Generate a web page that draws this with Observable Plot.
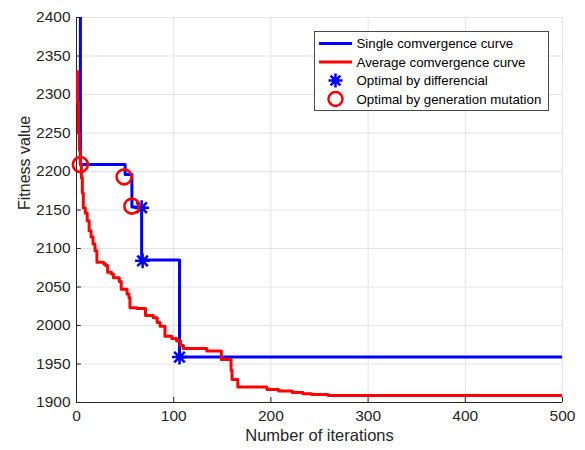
<!DOCTYPE html>
<html>
<head>
<meta charset="utf-8">
<script src="https://cdn.jsdelivr.net/npm/d3@7"></script>
<script src="https://cdn.jsdelivr.net/npm/@observablehq/plot@0.6"></script>
<style>
  html, body { margin: 0; padding: 0; background: #fff; }
  #wrap { position: relative; width: 585px; height: 450px; font-family: "Liberation Sans", Arial, Helvetica, sans-serif; }
  #legend { position: absolute; left: 314px; top: 31px; }
</style>
</head>
<body>
<div id="wrap"></div>
<script>
// Axis ticks
const xTicks = [0, 100, 200, 300, 400, 500];
const yTicks = [1900, 1950, 2000, 2050, 2100, 2150, 2200, 2250, 2300, 2350, 2400];

// Single run: best fitness after each change (iteration, value)
const singleIter  = [1,    4,    50,   57,   67,   106,  500];
const singleValue = [2480, 2209, 2196, 2154, 2085, 1959, 1959];

// Average over runs: iteration where the average changes, and the new value
const avgIter  = [0, 1, 2, 3, 4, 5, 6, 7, 9, 11, 13, 15, 17, 19, 21, 28, 30, 32, 36, 38, 44, 46, 52, 54, 55, 62, 71, 79, 83, 86, 91, 98, 103, 107, 110, 134, 149, 159, 160, 166, 196, 208, 222, 233, 242, 259, 500];
const avgValue = [2330, 2290, 2250, 2228, 2210, 2192, 2172, 2153, 2146, 2136, 2123, 2115, 2106, 2097, 2082, 2080, 2078, 2069, 2067, 2062, 2057, 2047, 2041, 2036, 2023, 2022, 2013, 2010, 2004, 1999, 1986, 1983, 1980, 1974, 1970, 1967, 1956, 1942, 1930, 1920, 1917, 1915, 1913, 1911.5, 1910.5, 1909, 1909];

// Optimum found by the differential step
const diffIter  = [67, 68, 106];
const diffValue = [2153, 2084, 1959];

// Optimum found by generation mutation
const mutIter  = [4, 49, 57];
const mutValue = [2209, 2193, 2155];

const seriesNames = [
  "Single comvergence curve",
  "Average comvergence curve",
  "Optimal by differencial",
  "Optimal by generation mutation"
];

const single = singleIter.map((x, i) => ({x, y: singleValue[i]}));
const avg = avgIter.map((x, i) => ({x, y: avgValue[i]}));
const diffPts = diffIter.map((x, i) => ({x, y: diffValue[i]}));
const mutPts = mutIter.map((x, i) => ({x, y: mutValue[i]}));

// Eight-armed asterisk (plus and cross overlaid)
const asterisk8 = {
  draw(context, size) {
    const r = Math.sqrt(size / Math.PI);
    const d = r * Math.SQRT1_2;
    context.moveTo(-r, 0); context.lineTo(r, 0);
    context.moveTo(0, -r); context.lineTo(0, r);
    context.moveTo(-d, -d); context.lineTo(d, d);
    context.moveTo(-d, d); context.lineTo(d, -d);
  }
};

const BLUE = "#0000ff", RED = "#ff0000", AX = "#262626", GRID = "#e3e3e3";

const chart = Plot.plot({
  width: 585,
  height: 450,
  marginLeft: 76,
  marginRight: 23,
  marginTop: 17,
  marginBottom: 48,
  x: {domain: [0, 500]},
  y: {domain: [1900, 2400]},
  style: {
    fontFamily: '"Liberation Sans", Arial, Helvetica, sans-serif',
    fontSize: "15.5px",
    color: AX,
    background: "#fff",
    overflow: "visible"
  },
  marks: [
    Plot.gridX(xTicks, {stroke: GRID, strokeOpacity: 1}),
    Plot.gridY(yTicks, {stroke: GRID, strokeOpacity: 1}),
    Plot.axisX(xTicks, {tickSize: 0, tickPadding: 7, label: null, tickFormat: d => String(d)}),
    Plot.axisY(yTicks, {tickSize: 0, tickPadding: 6, label: null, tickFormat: d => String(d)}),
    // inward tick marks
    Plot.ruleX(xTicks, {y1: 1900, y2: 1906.5, stroke: AX}),
    Plot.ruleY(yTicks, {x1: 0, x2: 5, stroke: AX}),
    // axis lines
    Plot.ruleY([1900], {stroke: AX}),
    Plot.ruleX([0], {stroke: AX}),
    Plot.line(single, {x: "x", y: "y", curve: "step-after", stroke: BLUE, strokeWidth: 3, clip: true}),
    Plot.line(avg, {x: "x", y: "y", curve: "step-after", stroke: RED, strokeWidth: 3, clip: true}),
    Plot.dot(diffPts, {x: "x", y: "y", symbol: asterisk8, r: 7.5, stroke: BLUE, strokeWidth: 2.5}),
    Plot.dot(mutPts, {x: "x", y: "y", r: 7.5, stroke: RED, strokeWidth: 2.6, fill: "none"}),
    Plot.text(["Number of iterations"], {frameAnchor: "bottom", dy: 38, fontSize: 16.5, fill: AX}),
    Plot.text(["Fitness value"], {frameAnchor: "left", dx: -52, rotate: -90, fontSize: 16, fill: AX})
  ]
});

const wrap = document.getElementById("wrap");
wrap.appendChild(chart);

// Legend box in the upper right of the axes
const legW = 234, legH = 79, rowH = 18.5, row0 = 12.5;
const leg = d3.select(wrap).append("svg")
  .attr("id", "legend")
  .attr("width", legW + 1)
  .attr("height", legH + 1);
leg.append("rect")
  .attr("x", 0.5).attr("y", 0.5)
  .attr("width", legW).attr("height", legH)
  .attr("fill", "#fff").attr("stroke", "#4a4a4a").attr("stroke-width", 1);

const kinds = ["line", "line", "star", "circle"];
const colors = [BLUE, RED, BLUE, RED];
const items = leg.selectAll("g.item").data(seriesNames).join("g")
  .attr("class", "item")
  .attr("transform", (d, i) => `translate(0,${row0 + i * rowH})`);

items.each(function (d, i) {
  const g = d3.select(this);
  if (kinds[i] === "line") {
    g.append("line").attr("x1", 5).attr("x2", 38).attr("y1", 0).attr("y2", 0)
      .attr("stroke", colors[i]).attr("stroke-width", 3);
  } else if (kinds[i] === "star") {
    const p = d3.path();
    asterisk8.draw(p, Math.PI * 7 * 7);
    g.append("path").attr("d", p.toString()).attr("transform", "translate(21.5,0)")
      .attr("stroke", colors[i]).attr("stroke-width", 2.5).attr("fill", "none");
  } else {
    g.append("circle").attr("cx", 21.5).attr("cy", 0).attr("r", 7)
      .attr("stroke", colors[i]).attr("stroke-width", 2.5).attr("fill", "none");
  }
  g.append("text").attr("x", 42.5).attr("y", 0).attr("dy", "0.35em")
    .attr("font-size", 13.3)
    .attr("font-family", '"Liberation Sans", Arial, Helvetica, sans-serif')
    .attr("fill", "#000")
    .text(d);
});
</script>
</body>
</html>
